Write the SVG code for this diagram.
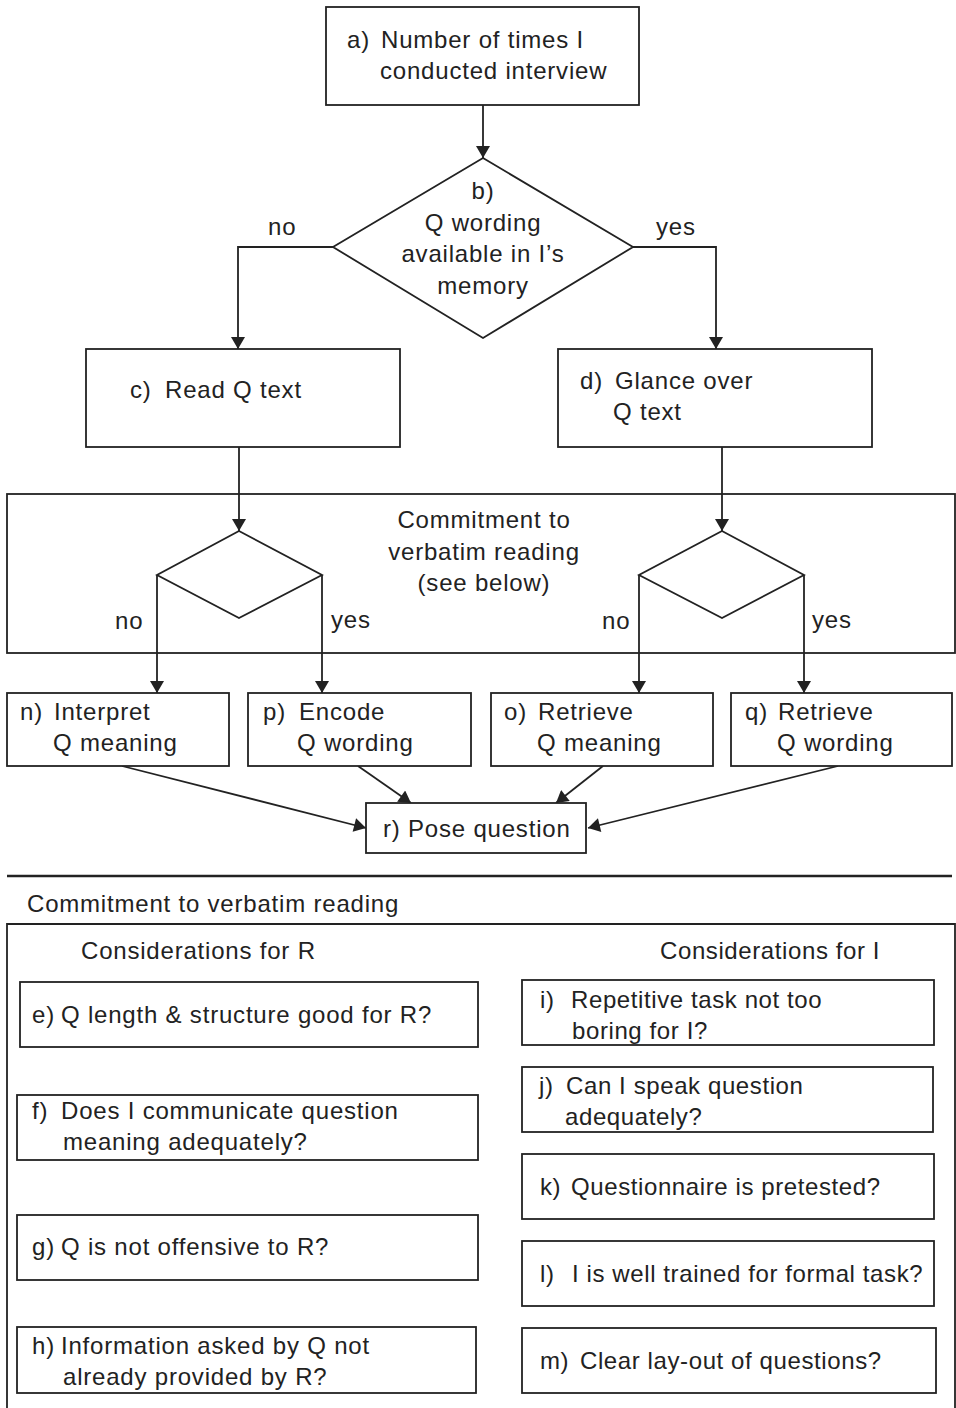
<svg xmlns="http://www.w3.org/2000/svg" width="956" height="1408" viewBox="0 0 956 1408">
<defs>
<style>
.b{fill:#fff;stroke:#222;stroke-width:1.8}
.l{fill:none;stroke:#222;stroke-width:1.8}
text{font-family:"Liberation Sans",Arial,sans-serif;font-size:24px;letter-spacing:0.8px;fill:#222}
.c{text-anchor:middle}
.t{letter-spacing:0.6px}
</style>
<marker id="ah" viewBox="0 0 12 14" refX="12" refY="7" markerWidth="13" markerHeight="14" markerUnits="userSpaceOnUse" orient="auto">
<path d="M0,0 L12,7 L0,14 Z" fill="#222"/>
</marker>
</defs>
<rect width="956" height="1408" fill="#fff"/>

<g id="container">
<rect class="b" x="7" y="494" width="948" height="159"/>
<text class="c" x="484" y="528">Commitment to</text>
<text class="c" x="484" y="560">verbatim reading</text>
<text class="c" x="484" y="591">(see below)</text>
</g>

<g id="connectors">
<line class="l" x1="483" y1="105" x2="483" y2="158" marker-end="url(#ah)"/>
<polyline class="l" points="333,247 238,247 238,349" marker-end="url(#ah)"/>
<polyline class="l" points="633,247 716,247 716,349" marker-end="url(#ah)"/>
<line class="l" x1="239" y1="447" x2="239" y2="531" marker-end="url(#ah)"/>
<line class="l" x1="722" y1="447" x2="722" y2="531" marker-end="url(#ah)"/>
<line class="l" x1="157" y1="575" x2="157" y2="693" marker-end="url(#ah)"/>
<line class="l" x1="322" y1="575" x2="322" y2="693" marker-end="url(#ah)"/>
<line class="l" x1="639" y1="575" x2="639" y2="693" marker-end="url(#ah)"/>
<line class="l" x1="804" y1="575" x2="804" y2="693" marker-end="url(#ah)"/>
<line class="l" x1="122" y1="766" x2="366" y2="828" marker-end="url(#ah)"/>
<line class="l" x1="358" y1="766" x2="411" y2="803" marker-end="url(#ah)"/>
<line class="l" x1="603" y1="766" x2="556" y2="803" marker-end="url(#ah)"/>
<line class="l" x1="838" y1="766" x2="588" y2="828" marker-end="url(#ah)"/>
<text x="268" y="235">no</text>
<text x="656" y="235">yes</text>
<text x="115" y="629">no</text>
<text x="331" y="628">yes</text>
<text x="602" y="629">no</text>
<text x="812" y="628">yes</text>
</g>

<g id="a">
<rect class="b" x="326" y="7" width="313" height="98"/>
<text y="48"><tspan x="347">a)</tspan><tspan x="381">Number of times I</tspan></text>
<text x="380" y="79">conducted interview</text>
</g>

<g id="b">
<polygon class="b" points="483,158 633,247 483,338 333,247"/>
<text class="c" x="483" y="199">b)</text>
<text class="c" x="483" y="231">Q wording</text>
<text class="c" x="483" y="262">available in I’s</text>
<text class="c" x="483" y="294">memory</text>
</g>

<g id="c">
<rect class="b" x="86" y="349" width="314" height="98"/>
<text y="398"><tspan x="130">c)</tspan><tspan x="165">Read Q text</tspan></text>
</g>

<g id="d">
<rect class="b" x="558" y="349" width="314" height="98"/>
<text y="389"><tspan x="580">d)</tspan><tspan x="615">Glance over</tspan></text>
<text x="613" y="420">Q text</text>
</g>

<g id="dec-left">
<polygon class="b" points="239,531 322,575 239,618 157,575"/>
</g>
<g id="dec-right">
<polygon class="b" points="722,531 804,575 722,618 639,575"/>
</g>

<g id="n">
<rect class="b" x="7" y="693" width="222" height="73"/>
<text y="720"><tspan x="20">n)</tspan><tspan x="54">Interpret</tspan></text>
<text x="53" y="751">Q meaning</text>
</g>
<g id="p">
<rect class="b" x="248" y="693" width="223" height="73"/>
<text y="720"><tspan x="263">p)</tspan><tspan x="299">Encode</tspan></text>
<text x="297" y="751">Q wording</text>
</g>
<g id="o">
<rect class="b" x="491" y="693" width="222" height="73"/>
<text y="720"><tspan x="504">o)</tspan><tspan x="538">Retrieve</tspan></text>
<text x="537" y="751">Q meaning</text>
</g>
<g id="q">
<rect class="b" x="731" y="693" width="221" height="73"/>
<text y="720"><tspan x="745">q)</tspan><tspan x="778">Retrieve</tspan></text>
<text x="777" y="751">Q wording</text>
</g>
<g id="r">
<rect class="b" x="366" y="803" width="220" height="50"/>
<text x="383" y="837">r) Pose question</text>
</g>

<g id="legend">
<line x1="7" y1="876" x2="952" y2="876" stroke="#222" stroke-width="2.4"/>
<text x="27" y="912">Commitment to verbatim reading</text>
<path class="l" d="M7,1408 V924 H955 V1408"/>
<text x="81" y="959">Considerations for R</text>
<text class="t" x="660" y="959">Considerations for I</text>
</g>

<g id="e">
<rect class="b" x="20" y="982" width="458" height="65"/>
<text y="1023"><tspan x="32">e)</tspan><tspan x="61">Q length &amp; structure good for R?</tspan></text>
</g>
<g id="f">
<rect class="b" x="17" y="1095" width="461" height="65"/>
<text y="1119"><tspan x="32">f)</tspan><tspan x="61">Does I communicate question</tspan></text>
<text x="63" y="1150">meaning adequately?</text>
</g>
<g id="g">
<rect class="b" x="17" y="1215" width="461" height="65"/>
<text y="1255"><tspan x="32">g)</tspan><tspan x="61">Q is not offensive to R?</tspan></text>
</g>
<g id="h">
<rect class="b" x="17" y="1327" width="459" height="66"/>
<text y="1354"><tspan x="32">h)</tspan><tspan x="61">Information asked by Q not</tspan></text>
<text x="63" y="1385">already provided by R?</text>
</g>

<g id="i">
<rect class="b" x="522" y="980" width="412" height="65"/>
<text class="t" y="1008"><tspan x="540">i)</tspan><tspan x="571">Repetitive task not too</tspan></text>
<text class="t" x="572" y="1039">boring for I?</text>
</g>
<g id="j">
<rect class="b" x="522" y="1067" width="411" height="65"/>
<text class="t" y="1094"><tspan x="539">j)</tspan><tspan x="566">Can I speak question</tspan></text>
<text class="t" x="565" y="1125">adequately?</text>
</g>
<g id="k">
<rect class="b" x="522" y="1154" width="412" height="65"/>
<text class="t" y="1195"><tspan x="540">k)</tspan><tspan x="571">Questionnaire is pretested?</tspan></text>
</g>
<g id="l">
<rect class="b" x="522" y="1241" width="412" height="65"/>
<text class="t" y="1282"><tspan x="540">l)</tspan><tspan x="572">I is well trained for formal task?</tspan></text>
</g>
<g id="m">
<rect class="b" x="522" y="1328" width="414" height="65"/>
<text class="t" y="1369"><tspan x="540">m)</tspan><tspan x="580">Clear lay-out of questions?</tspan></text>
</g>
</svg>
